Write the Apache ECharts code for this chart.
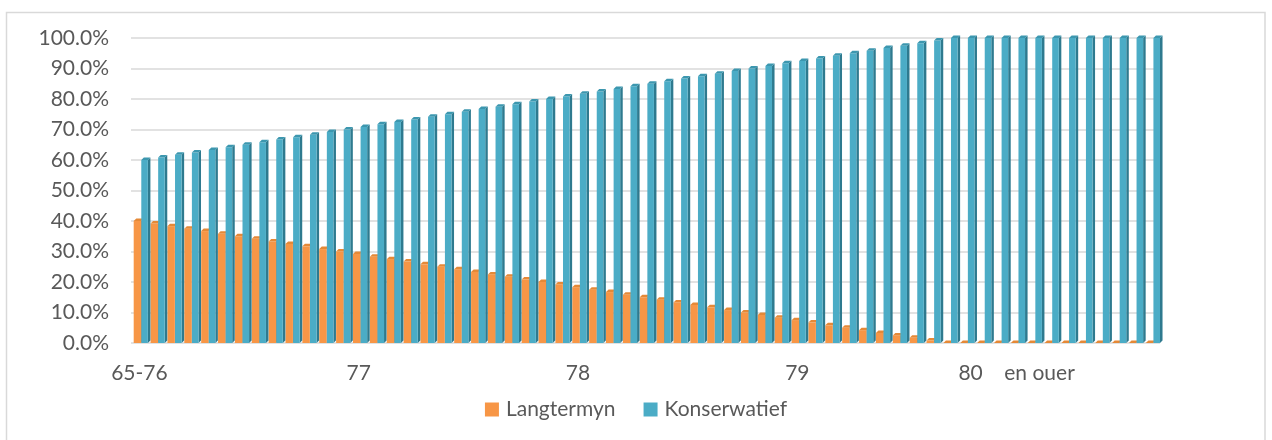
<!DOCTYPE html>
<html>
<head>
<meta charset="utf-8">
<script src="https://cdn.jsdelivr.net/npm/echarts@6/dist/echarts.min.js"></script>
<style>
html,body{margin:0;padding:0;background:#fff;}
#chart{width:1272px;height:440px;}
</style>
</head>
<body>
<div id="chart"></div>
<script>
// Categories (x-axis tick labels shown every 13th category)
var categories = [
 '65-76','','','','','','','','','','','','',
 '77','','','','','','','','','','','','',
 '78','','','','','','','','','','','','',
 '79','','','','','','','','','','','','',
 '80    en ouer','','','','','','','',''
];
var seriesNames = ['Langtermyn', 'Konserwatief'];
var langtermyn = [
 40.0, 39.2, 38.3, 37.5, 36.7, 35.8, 35.0, 34.2, 33.3, 32.5, 31.7, 30.8,
 30.0, 29.2, 28.3, 27.5, 26.7, 25.8, 25.0, 24.2, 23.3, 22.5, 21.7, 20.8,
 20.0, 19.2, 18.3, 17.5, 16.7, 15.8, 15.0, 14.2, 13.3, 12.5, 11.7, 10.8,
 10.0, 9.2, 8.3, 7.5, 6.7, 5.8, 5.0, 4.2, 3.3, 2.5, 1.7, 0.8,
 0, 0, 0, 0, 0, 0, 0, 0, 0, 0, 0, 0, 0
];
var konserwatief = [
 60.0, 60.8, 61.7, 62.5, 63.3, 64.2, 65.0, 65.8, 66.7, 67.5, 68.3, 69.2,
 70.0, 70.8, 71.7, 72.5, 73.3, 74.2, 75.0, 75.8, 76.7, 77.5, 78.3, 79.2,
 80.0, 80.8, 81.7, 82.5, 83.3, 84.2, 85.0, 85.8, 86.7, 87.5, 88.3, 89.2,
 90.0, 90.8, 91.7, 92.5, 93.3, 94.2, 95.0, 95.8, 96.7, 97.5, 98.3, 99.2,
 100, 100, 100, 100, 100, 100, 100, 100, 100, 100, 100, 100, 100
];

var FONT = 'Lato';
var TXT = '#595959';

function makeRender(offset, widthFrac, front, side, topc) {
  return function (params, api) {
    var i = api.value(0), v = api.value(1);
    var t = api.coord([i, v]);
    var b = api.coord([i, 0]);
    var w = api.size([1, 0])[0];
    var x0 = t[0] + offset * w;
    var fw = widthFrac * w;
    var dx = 0.15 * w, dy = 2.5;
    return {
      type: 'group',
      children: [
        { type: 'polygon', shape: { points: [[x0 + fw, t[1]], [x0 + fw + dx, t[1] - dy], [x0 + fw + dx, b[1] - dy], [x0 + fw, b[1]]] }, style: { fill: side } },
        { type: 'rect', shape: { x: x0, y: t[1], width: fw, height: b[1] - t[1] }, style: { fill: front } },
        { type: 'polygon', shape: { points: [[x0, t[1]], [x0 + dx, t[1] - dy], [x0 + fw + dx, t[1] - dy], [x0 + fw, t[1]]] }, style: { fill: topc } }
      ]
    };
  };
}

function pairs(arr) { return arr.map(function (v, i) { return [i, v]; }); }

var chart = echarts.init(document.getElementById('chart'));
chart.setOption({
  animation: false,
  backgroundColor: '#fff',
  graphic: [{
    type: 'rect', z: -10,
    shape: { x: 6.5, y: 12.5, width: 1258.5, height: 440 },
    style: { fill: 'none', stroke: '#d9d9d9', lineWidth: 1.5 }
  }],
  grid: { left: 131, right: 112, top: 38, bottom: 97 },
  legend: {
    bottom: 15, left: 'center',
    itemWidth: 14, itemHeight: 14, itemGap: 28,
    icon: 'rect',
    textStyle: { fontFamily: FONT, fontSize: 21, color: TXT, padding: [0, 0, 0, 2] },
    data: seriesNames
  },
  xAxis: {
    type: 'category',
    data: categories,
    axisLine: { show: false },
    axisTick: { show: false },
    axisLabel: { interval: 12, margin: 20, fontFamily: FONT, fontSize: 21, color: TXT }
  },
  yAxis: {
    type: 'value', min: 0, max: 100, interval: 10,
    axisLine: { show: false },
    axisTick: { show: false },
    splitLine: { lineStyle: { color: '#d9d9d9', width: 1.5 } },
    axisLabel: {
      margin: 22, fontFamily: FONT, fontSize: 21, color: TXT,
      formatter: function (v) { return v.toFixed(1) + '%'; }
    }
  },
  series: [
    {
      name: seriesNames[0], type: 'custom',
      itemStyle: { color: '#F79646' },
      renderItem: makeRender(-0.34, 0.44, '#F79646', '#C4702F', '#E58937'),
      encode: { x: 0, y: 1 },
      data: pairs(langtermyn)
    },
    {
      name: seriesNames[1], type: 'custom',
      itemStyle: { color: '#4BACC6' },
      renderItem: makeRender(0.11, 0.39, '#4BACC6', '#2E7A8F', '#3C97AF'),
      encode: { x: 0, y: 1 },
      data: pairs(konserwatief)
    }
  ]
});
</script>
</body>
</html>
